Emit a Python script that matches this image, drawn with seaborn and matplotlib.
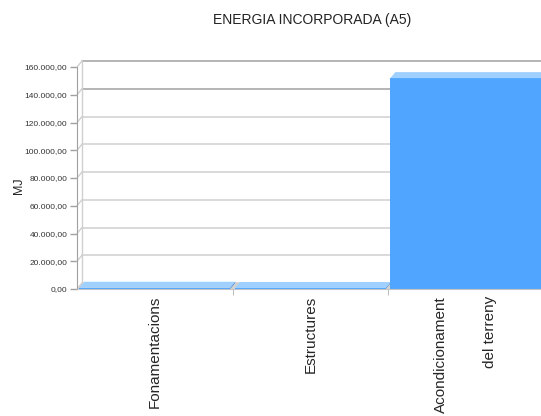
import matplotlib
matplotlib.use("Agg")
import matplotlib.pyplot as plt
import numpy as np
import pandas as pd
import seaborn as sns
from matplotlib.patches import Polygon
from matplotlib.transforms import ScaledTranslation

# Embodied energy per work item (MJ)
categories = ["Fonamentacions", "Estructures", "Acondicionament\ndel terreny"]
energy_mj = [900, 700, 152000]
y_ticks = [0, 20000, 40000, 60000, 80000, 100000, 120000, 140000, 160000]

FRONT = "#50a6ff"
TOP = "#a0d0ff"
SIDE = "#3f8ee0"
GRID = "#d0d0d0"
DARK_GRID = "#a0a0a0"

sns.set_style("white")
plt.rcParams["font.family"] = ["Liberation Sans", "DejaVu Sans"]

W, H = 541, 416
fig = plt.figure(figsize=(W / 100, H / 100), dpi=100)
ax = fig.add_axes([77 / W, 127 / H, 466.5 / W, 222 / H])

df = pd.DataFrame({"categoria": categories, "MJ": energy_mj})
sns.barplot(data=df, x="categoria", y="MJ", color=FRONT, saturation=1,
            width=0.97, edgecolor="none", zorder=3, ax=ax)
ax.set_xlim(-0.5, 2.5)
ax.set_ylim(0, 160000)

# depth of the pseudo-3D box, in pixels
DX, DY = 5, 6
back = ax.transData + ScaledTranslation(DX / 100, DY / 100, fig.dpi_scale_trans)
inv = ax.transData.inverted()
p0 = ax.transData.transform((0, 0))
base = inv.transform(p0)
shifted = inv.transform(p0 + np.array([DX, DY]))
dxd, dyd = shifted - base

# back wall grid + connectors to the front axis
for v in y_ticks:
    col = DARK_GRID if v >= 140000 else GRID
    ax.plot([-0.5, 2.7], [v, v], transform=back, color=col, lw=1.1,
            zorder=1, clip_on=False)
    ax.plot([-0.5, -0.5 + dxd], [v, v + dyd], color=GRID, lw=1,
            zorder=1, clip_on=False)
ax.plot([-0.5, -0.5], [0, 160000], transform=back, color=GRID, lw=1,
        zorder=1, clip_on=False)

# floor
ax.add_patch(Polygon([(-0.5, 0), (2.7, 0), (2.7 + dxd, dyd), (-0.5 + dxd, dyd)],
                     closed=True, fc="#d2d2d2", ec="none", zorder=2, clip_on=False))

# top and side faces of each bar
for bar in list(ax.patches)[:len(categories)]:
    x0, w, h = bar.get_x(), bar.get_width(), bar.get_height()
    ax.add_patch(Polygon([(x0 + w, 0), (x0 + w + dxd, dyd), (x0 + w + dxd, h + dyd), (x0 + w, h)],
                         closed=True, fc=SIDE, ec="none", zorder=3.05, clip_on=False))
    ax.add_patch(Polygon([(x0, h), (x0 + w, h), (x0 + w + dxd, h + dyd), (x0 + dxd, h + dyd)],
                         closed=True, fc=TOP, ec="none", zorder=3.1, clip_on=False))

# axes styling
for side in ["top", "right"]:
    ax.spines[side].set_visible(False)
ax.spines["left"].set_color(DARK_GRID)
ax.spines["bottom"].set_color("#c4c4c4")
ax.spines["left"].set_zorder(4)
ax.spines["bottom"].set_zorder(4)

ax.set_yticks(y_ticks)
ax.set_yticklabels([f"{v:,.2f}".replace(",", "X").replace(".", ",").replace("X", ".")
                    for v in y_ticks])
ax.tick_params(axis="y", length=5, width=1, color=DARK_GRID, labelsize=6,
               labelcolor="#333333", pad=2, left=True)

ax.set_xticks(range(len(categories)))
ax.set_xticks([0.5, 1.5], minor=True)
ax.tick_params(axis="x", which="major", length=0, pad=5, labelsize=11)
ax.tick_params(axis="x", which="minor", length=4, color="#b0b0b0", bottom=True)
ax.set_xticklabels(categories)
for lbl in ax.get_xticklabels():
    lbl.set_rotation(90)
    lbl.set_va("top")
    lbl.set_ha("center")
    lbl.set_multialignment("right")
    lbl.set_linespacing(4.15)
ax.set_xlabel("")

ax.set_ylabel("MJ", fontsize=9)
ax.yaxis.set_label_coords((25 - 77) / 466.5, (289 - 186) / 222)

fig.text(312 / W, 1 - 20 / H, "ENERGIA INCORPORADA (A5)", ha="center",
         va="center", fontsize=10, color="#222222")

fig.savefig("out.png", dpi=100)
